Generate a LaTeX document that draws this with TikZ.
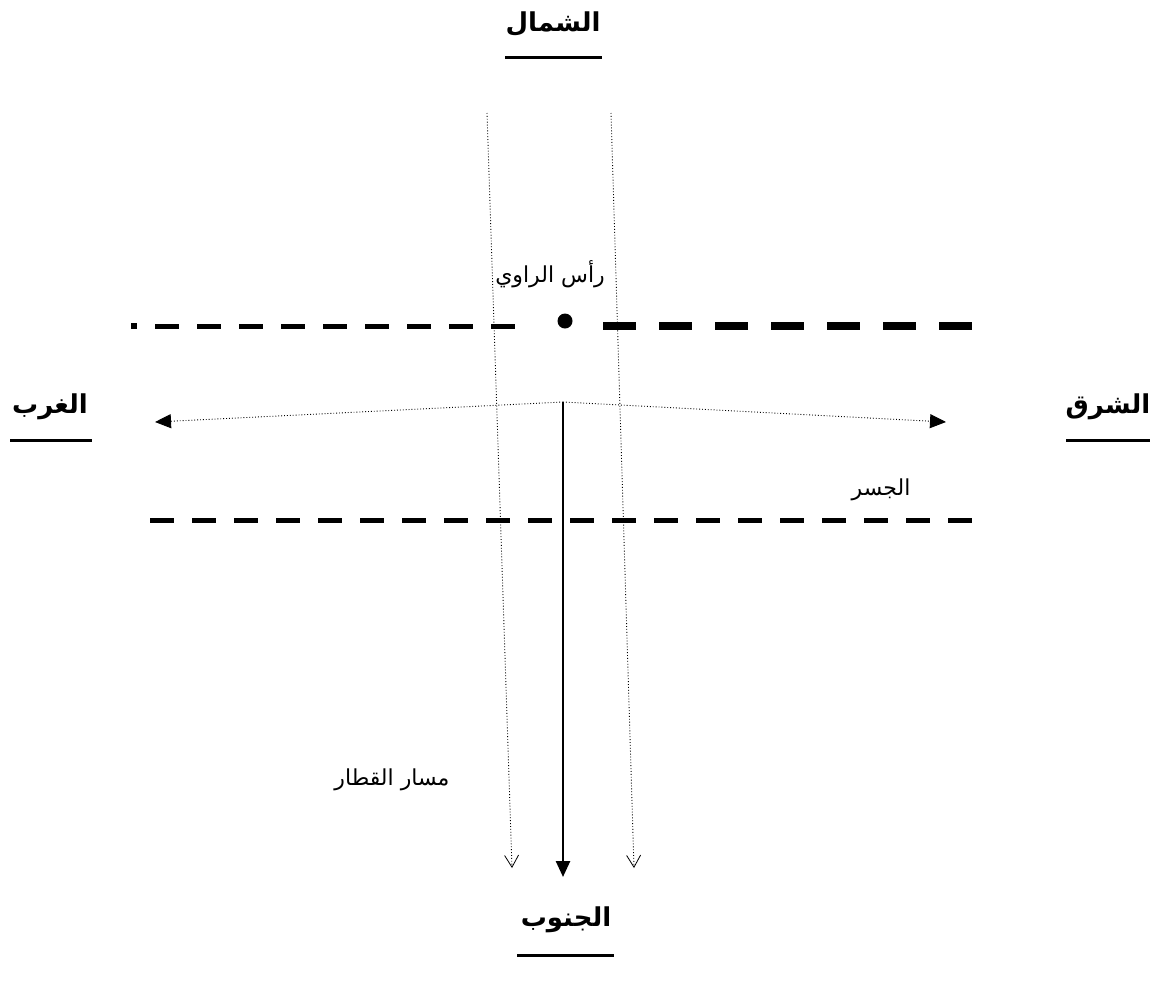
\documentclass[tikz,border=0pt]{standalone}
\usepackage{fontspec}
\usetikzlibrary{arrows.meta}
\TeXXeTstate=1
\newfontfamily\arabicfont[Script=Arabic]{DejaVu Sans}
\begin{document}
\begin{tikzpicture}[x=1pt,y=-1pt,
  lbl/.style={font=\arabicfont\fontsize{22}{26}\selectfont, inner sep=0pt},
  dirlbl/.style={font=\arabicfont\bfseries\fontsize{26}{30}\selectfont, inner sep=0pt},
  uline/.style={line width=3pt},
  dotline/.style={line width=0.9pt, dotted},
  thindash/.style={line width=5pt, dash pattern=on 24pt off 18pt},
  thickdash/.style={line width=8pt, dash pattern=on 33pt off 23pt},
  opentip/.style={-{Straight Barb[length=12pt,width=14pt,line width=0.8pt]}},
  filltip/.style={-{Triangle[length=16pt,width=14pt]}}
]
\useasboundingbox (0,0) rectangle (1161,989);
% direction labels
\node[dirlbl] (north) at (553,24) {\beginR الشمال\endR};
\draw[uline] (505,57) -- (602,57);
\node[dirlbl] (south) at (566,920) {\beginR الجنوب\endR};
\draw[uline] (517,955) -- (614,955);
\node[dirlbl] (west) at (50,407) {\beginR الغرب\endR};
\draw[uline] (10,440) -- (92,440);
\node[dirlbl] (east) at (1108,407) {\beginR الشرق\endR};
\draw[uline] (1066,440) -- (1150,440);
% upper dashed line
\fill (131,323) rectangle (137,329);
\draw[thindash] (155,326) -- (515,326);
\draw[thickdash] (603,326) -- (972,326);
\node[circle, fill, inner sep=0pt, minimum size=15pt] (head) at (565,321) {};
% lower dashed line
\draw[thindash] (150,520) -- (972,520);
% dotted verticals
\coordinate (lt) at (487,113);
\coordinate (lb) at (512,868);
\coordinate (rt) at (611,113);
\coordinate (rb) at (634,868);
\draw[dotline, opentip] (lt) -- (lb);
\draw[dotline, opentip] (rt) -- (rb);
% train path
\coordinate (apex) at (563,402);
\coordinate (sb) at (563,877);
\draw[line width=2.5pt, filltip] (apex) -- (sb);
\coordinate (wtip) at (155,422);
\coordinate (etip) at (946,422);
\draw[dotline, filltip] (apex) -- (wtip);
\draw[dotline, filltip] (apex) -- (etip);
% labels
\node[lbl] (rawi) at (550,274) {\beginR رأس الراوي\endR};
\node[lbl] (bridge) at (881,490) {\beginR الجسر\endR};
\node[lbl] (track) at (392,780) {\beginR مسار القطار\endR};
\end{tikzpicture}
\end{document}
